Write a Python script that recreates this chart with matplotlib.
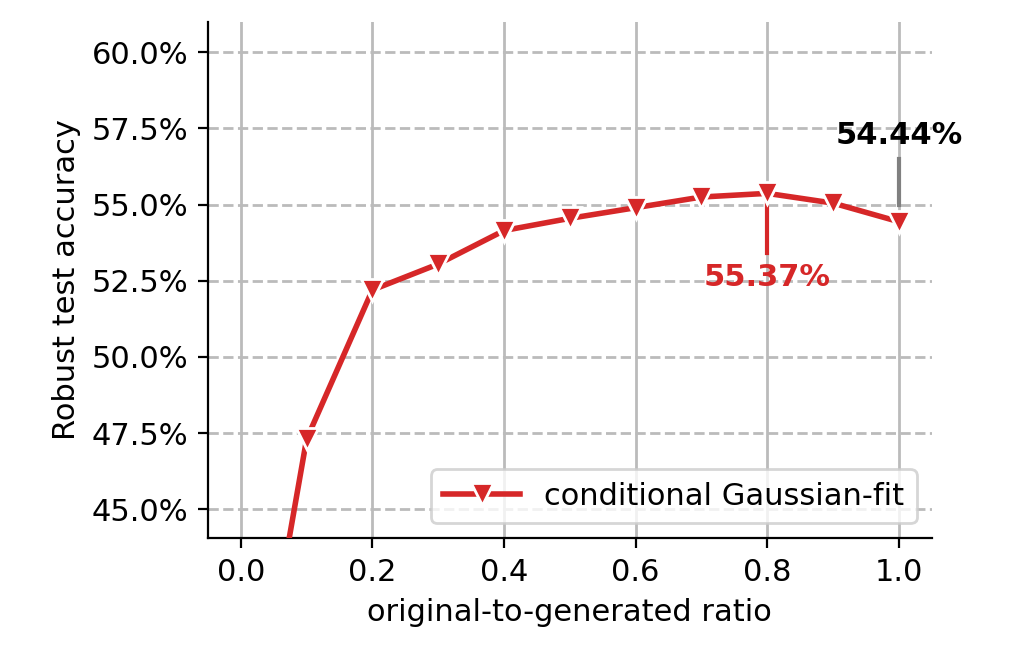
import matplotlib
matplotlib.use("Agg")
import matplotlib.pyplot as plt
from matplotlib.ticker import FuncFormatter

ratios = [0.0, 0.1, 0.2, 0.3, 0.4, 0.5, 0.6, 0.7, 0.8, 0.9, 1.0]
accuracy = [35.0, 47.3, 52.2, 53.05, 54.15, 54.55, 54.9, 55.25, 55.37, 55.05, 54.44]
label = "conditional Gaussian-fit"
red = "#d62728"

fig = plt.figure(figsize=(5.12, 3.31), dpi=200)
ax = fig.add_axes([0.203, 0.187, 0.707, 0.780])
ax.plot(ratios, accuracy, color=red, lw=2, marker="v", ms=8,
        markeredgecolor="white", markeredgewidth=1, label=label, zorder=3)
ax.set_xlim(-0.05, 1.05)
ax.set_ylim(44.05, 61)
ax.set_xticks([0, 0.2, 0.4, 0.6, 0.8, 1.0])
ax.set_yticks([45, 47.5, 50, 52.5, 55, 57.5, 60])
ax.yaxis.set_major_formatter(FuncFormatter(lambda v, p: f"{v:.1f}%"))
ax.xaxis.grid(True, color="#bbbbbb", lw=1, ls="-")
ax.yaxis.grid(True, color="#bbbbbb", lw=1, ls="--")
ax.set_axisbelow(True)
for s in ["top", "right"]:
    ax.spines[s].set_visible(False)
ax.tick_params(labelsize=11)
ax.set_xlabel("original-to-generated ratio", fontsize=11)
ax.set_ylabel("Robust test accuracy", fontsize=11)

ax.plot([0.8, 0.8], [55.2, 53.4], color=red, lw=1.5, zorder=2)
ax.text(0.8, 53.1, f"{accuracy[8]:.2f}%", color=red, fontsize=11,
        fontweight="bold", ha="center", va="top")
ax.plot([1.0, 1.0], [55.0, 56.5], color="gray", lw=1.5, zorder=2)
ax.text(1.0, 56.8, f"{accuracy[10]:.2f}%", color="black", fontsize=11,
        fontweight="bold", ha="center", va="bottom")

ax.legend(loc="lower right", fontsize=11, handlelength=2.5)
fig.savefig("out.png", dpi=200)
